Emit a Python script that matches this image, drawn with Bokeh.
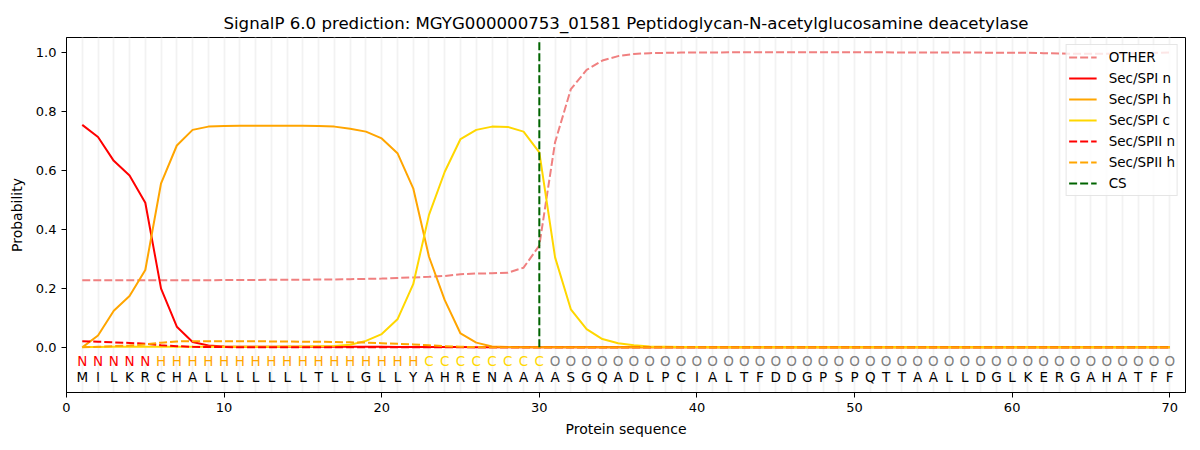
from bokeh.plotting import figure
from bokeh.models import ColumnDataSource, Range1d, FixedTicker, PrintfTickFormatter
from bokeh.core.properties import value
from bokeh.embed import file_html
from bokeh.resources import INLINE

sequence = "MILKRCHALLLLLLLTLLGLLYAHRENAAAASGQADLPCIALTFDDGPSPQTTAALLDGLKERGAHATFF"
regions = "NNNNNHHHHHHHHHHHHHHHHHCCCCCCCCOOOOOOOOOOOOOOOOOOOOOOOOOOOOOOOOOOOOOOOO"
positions = list(range(1, 71))
cs_pos = 30

other = [0.227, 0.227, 0.227, 0.227, 0.227, 0.227, 0.227, 0.227, 0.227, 0.228,
         0.228, 0.228, 0.229, 0.229, 0.229, 0.230, 0.230, 0.231, 0.232, 0.233,
         0.235, 0.237, 0.239, 0.242, 0.248, 0.250, 0.251, 0.253, 0.270, 0.345,
         0.695, 0.875, 0.940, 0.972, 0.987, 0.994, 0.997, 0.998, 0.999, 0.999,
         0.999, 1.000, 1.000, 1.000, 1.000, 1.000, 1.000, 1.000, 1.000, 1.000,
         1.000, 1.000, 0.999, 0.999, 0.999, 0.999, 0.999, 0.999, 0.998, 0.998,
         0.998, 0.997, 0.996, 0.995, 0.995, 0.995, 0.996, 0.997, 0.998, 0.999]
spi_n = [0.754, 0.713, 0.632, 0.582, 0.490, 0.199, 0.070, 0.018, 0.006, 0.003,
         0.002, 0.002, 0.002, 0.002, 0.002, 0.002, 0.002, 0.002, 0.002, 0.002,
         0.001, 0.001, 0.001, 0.001, 0.001, 0.000, 0.000, 0.000, 0.000, 0.000,
         0.000, 0.000, 0.000, 0.000, 0.000, 0.000, 0.000, 0.000, 0.000, 0.000,
         0.000, 0.000, 0.000, 0.000, 0.000, 0.000, 0.000, 0.000, 0.000, 0.000,
         0.000, 0.000, 0.000, 0.000, 0.000, 0.000, 0.000, 0.000, 0.000, 0.000,
         0.000, 0.000, 0.000, 0.000, 0.000, 0.000, 0.000, 0.000, 0.000, 0.000]
spi_h = [0.000, 0.040, 0.124, 0.174, 0.262, 0.556, 0.684, 0.737, 0.748, 0.750,
         0.751, 0.751, 0.751, 0.751, 0.751, 0.750, 0.748, 0.741, 0.731, 0.708,
         0.658, 0.539, 0.307, 0.160, 0.047, 0.016, 0.003, 0.001, 0.000, 0.000,
         0.000, 0.000, 0.000, 0.000, 0.000, 0.000, 0.000, 0.000, 0.000, 0.000,
         0.000, 0.000, 0.000, 0.000, 0.000, 0.000, 0.000, 0.000, 0.000, 0.000,
         0.000, 0.000, 0.000, 0.000, 0.000, 0.000, 0.000, 0.000, 0.000, 0.000,
         0.000, 0.000, 0.000, 0.000, 0.000, 0.000, 0.000, 0.000, 0.000, 0.000]
spi_c = [0.001, 0.001, 0.002, 0.002, 0.002, 0.002, 0.002, 0.002, 0.002, 0.002,
         0.002, 0.002, 0.002, 0.003, 0.003, 0.004, 0.005, 0.009, 0.022, 0.045,
         0.095, 0.214, 0.449, 0.595, 0.706, 0.737, 0.748, 0.747, 0.731, 0.661,
         0.305, 0.129, 0.062, 0.028, 0.014, 0.007, 0.003, 0.002, 0.001, 0.001,
         0.000, 0.000, 0.000, 0.000, 0.000, 0.000, 0.000, 0.000, 0.000, 0.000,
         0.000, 0.000, 0.000, 0.000, 0.000, 0.000, 0.000, 0.000, 0.000, 0.000,
         0.000, 0.000, 0.000, 0.000, 0.000, 0.000, 0.000, 0.000, 0.000, 0.000]
spii_n = [0.021, 0.019, 0.017, 0.015, 0.012, 0.007, 0.004, 0.002, 0.001, 0.001,
          0.000, 0.000, 0.000, 0.000, 0.000, 0.000, 0.000, 0.000, 0.000, 0.000,
          0.000, 0.000, 0.000, 0.000, 0.000, 0.000, 0.000, 0.000, 0.000, 0.000,
          0.000, 0.000, 0.000, 0.000, 0.000, 0.000, 0.000, 0.000, 0.000, 0.000,
          0.000, 0.000, 0.000, 0.000, 0.000, 0.000, 0.000, 0.000, 0.000, 0.000,
          0.000, 0.000, 0.000, 0.000, 0.000, 0.000, 0.000, 0.000, 0.000, 0.000,
          0.000, 0.000, 0.000, 0.000, 0.000, 0.000, 0.000, 0.000, 0.000, 0.000]
spii_h = [0.000, 0.002, 0.004, 0.006, 0.010, 0.016, 0.020, 0.021, 0.021, 0.021,
          0.021, 0.021, 0.020, 0.020, 0.019, 0.019, 0.018, 0.017, 0.016, 0.014,
          0.012, 0.010, 0.007, 0.004, 0.002, 0.001, 0.000, 0.000, 0.000, 0.000,
          0.000, 0.000, 0.000, 0.000, 0.000, 0.000, 0.000, 0.000, 0.000, 0.000,
          0.000, 0.000, 0.000, 0.000, 0.000, 0.000, 0.000, 0.000, 0.000, 0.000,
          0.000, 0.000, 0.000, 0.000, 0.000, 0.000, 0.000, 0.000, 0.000, 0.000,
          0.000, 0.000, 0.000, 0.000, 0.000, 0.000, 0.000, 0.000, 0.000, 0.000]

region_colors = {"N": "red", "H": "orange", "C": "gold", "O": "gray"}
FONT = "DejaVu Sans"
DASH = "8 3"

p = figure(width=1192, height=442, output_backend="svg", toolbar_location=None,
           title="SignalP 6.0 prediction: MGYG000000753_01581 Peptidoglycan-N-acetylglucosamine deacetylase",
           x_range=Range1d(0, 71), y_range=Range1d(-0.153, 1.05),
           min_border_left=66, min_border_right=7, min_border_top=37, min_border_bottom=50)

p.title.align = "center"
p.title.text_font = FONT
p.title.text_font_size = "16.6px"
p.title.text_font_style = "normal"
p.title.text_color = "black"

p.outline_line_color = "black"
p.outline_line_width = 1
p.background_fill_color = "white"

# one faint vertical line per residue
p.xgrid.ticker = FixedTicker(ticks=positions)
p.xgrid.grid_line_color = "#f2f2f2"
p.xgrid.grid_line_width = 1.8
p.ygrid.grid_line_color = None

p.xaxis.ticker = FixedTicker(ticks=[0, 10, 20, 30, 40, 50, 60, 70])
p.yaxis.ticker = FixedTicker(ticks=[0.0, 0.2, 0.4, 0.6, 0.8, 1.0])
p.yaxis.formatter = PrintfTickFormatter(format="%.1f")
p.xaxis.axis_label = "Protein sequence"
p.yaxis.axis_label = "Probability"
for ax in [p.xaxis, p.yaxis]:
    ax.axis_label_text_font = FONT
    ax.axis_label_text_font_size = "14px"
    ax.axis_label_text_font_style = "normal"
    ax.major_label_text_font = FONT
    ax.major_label_text_font_size = "13px"
    ax.major_label_text_color = "black"
    ax.axis_label_text_color = "black"
    ax.major_tick_in = 0
    ax.major_tick_out = 5
    ax.major_tick_line_color = "black"
    ax.minor_tick_line_color = None
    ax.axis_line_color = "black"
p.xaxis.axis_label_standoff = 6
p.yaxis.axis_label_standoff = 8

p.line(positions, other, color="lightcoral", line_width=2, line_dash=DASH, legend_label="OTHER")
p.line(positions, spi_n, color="red", line_width=2, legend_label="Sec/SPI n")
p.line(positions, spi_h, color="orange", line_width=2, legend_label="Sec/SPI h")
p.line(positions, spi_c, color="gold", line_width=2, legend_label="Sec/SPI c")
p.line(positions, spii_n, color="red", line_width=2, line_dash=DASH, legend_label="Sec/SPII n")
p.line(positions, spii_h, color="orange", line_width=2, line_dash=DASH, legend_label="Sec/SPII h")
p.line([cs_pos, cs_pos], [0, 1.035], color="darkgreen", line_width=2, line_dash=DASH, legend_label="CS")

# residue letters and their region labels under the curves
region_src = ColumnDataSource(dict(x=positions, y=[-0.047] * len(positions), t=list(regions),
                                   c=[region_colors[r] for r in regions]))
seq_src = ColumnDataSource(dict(x=positions, y=[-0.1] * len(positions), t=list(sequence)))
p.text(x="x", y="y", text="t", text_color="c", source=region_src, text_font=value(FONT),
       text_font_size=value("13.5px"), text_align="center", text_baseline="middle")
p.text(x="x", y="y", text="t", text_color="black", source=seq_src, text_font=value(FONT),
       text_font_size=value("13.5px"), text_align="center", text_baseline="middle")

p.legend.location = "top_right"
p.legend.margin = 7
p.legend.padding = 2
p.legend.spacing = 1
p.legend.glyph_width = 28
p.legend.glyph_height = 20
p.legend.label_height = 20
p.legend.label_standoff = 12
p.legend.label_text_font = FONT
p.legend.label_text_font_size = "13.5px"
p.legend.label_text_color = "black"
p.legend.border_line_color = "#cccccc"
p.legend.background_fill_alpha = 0.8

open("out.html", "w").write(file_html(p, INLINE))
